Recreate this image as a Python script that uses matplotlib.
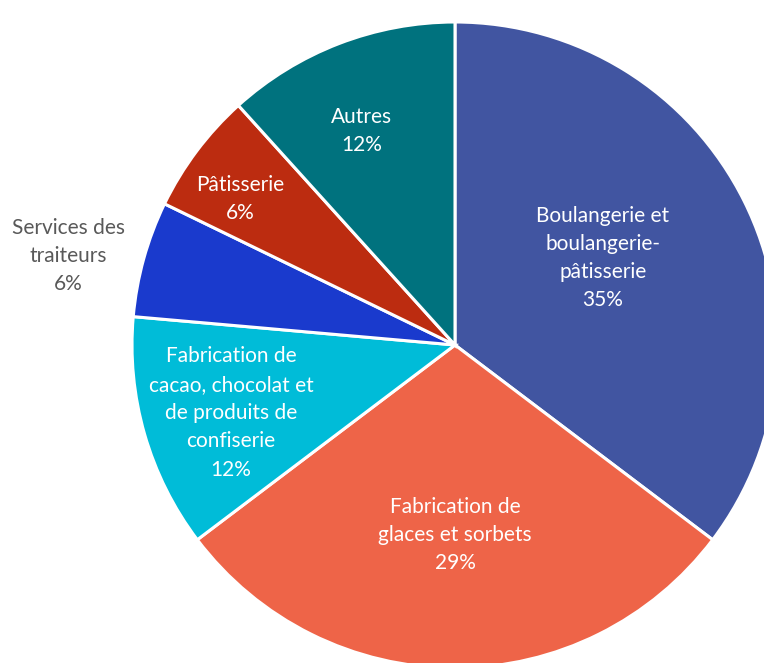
import matplotlib.pyplot as plt

# shares of each activity (percent)
categories = ["Boulangerie et\nboulangerie-\npâtisserie",
              "Fabrication de\nglaces et sorbets",
              "Fabrication de\ncacao, chocolat et\nde produits de\nconfiserie",
              "Services des\ntraiteurs",
              "Pâtisserie",
              "Autres"]
values = [35.3, 29.4, 11.7, 5.8, 6.1, 11.7]
colors = ["#4155A1", "#EE6448", "#00BCD8", "#1A3ACD", "#BC2C10", "#00727E"]

# label anchor positions in pixels of the 764x663 image
label_px = [(603, 258), (455, 535), (231, 413), (68, 256), (240, 199), (362, 131)]
label_col = ["white", "white", "white", "#595959", "white", "white"]

W, H = 764, 663
cx, cy, r = 455, 345, 323

fig = plt.figure(figsize=(W / 100, H / 100), dpi=100)
ax = fig.add_axes([0, 0, 1, 1])

ax.pie(values, colors=colors, startangle=90, counterclock=False, radius=1,
       wedgeprops=dict(edgecolor="white", linewidth=2.2))

ax.set_xlim(-cx / r, (W - cx) / r)
ax.set_ylim((cy - H) / r, cy / r)
ax.set_aspect("auto")
ax.axis("off")

for name, v, (px, py), col in zip(categories, values, label_px, label_col):
    ax.text((px - cx) / r, (cy - py) / r, f"{name}\n{round(v)}%", ha="center", va="center",
            color=col, fontsize=15, family="Lato", linespacing=1.52)

fig.savefig("out.png", dpi=100)
